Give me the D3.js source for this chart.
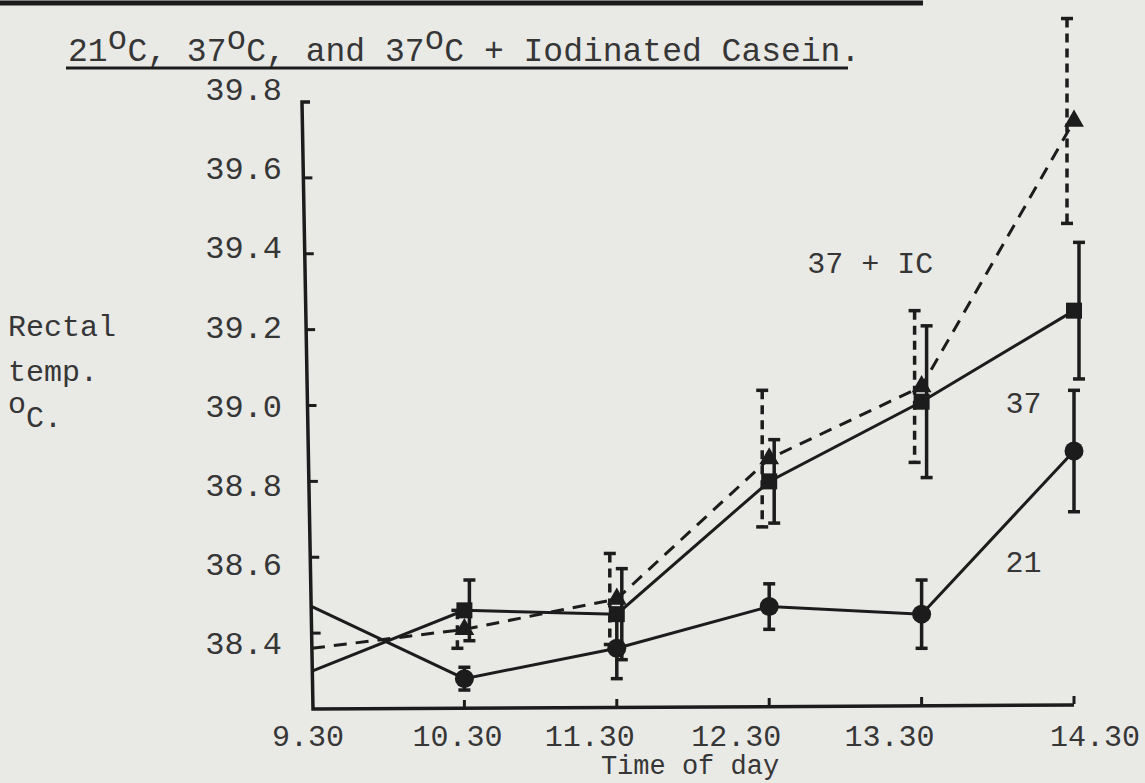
<!DOCTYPE html>
<html>
<head>
<meta charset="utf-8">
<script src="https://cdn.jsdelivr.net/npm/d3@7"></script>
<style>
  body { margin: 0; background: #e9e9e6; }
  svg { display: block; }
  text { font-family: "Liberation Mono", "DejaVu Sans Mono", monospace; fill: #363636; }
</style>
</head>
<body>
<svg id="chart" width="1145" height="783"></svg>
<script>
// time of day (x categories)
const times = ["9.30", "10.30", "11.30", "12.30", "13.30", "14.30"];
const yTicks = [39.8, 39.6, 39.4, 39.2, 39.0, 38.8, 38.6, 38.4];

// 21 C  (circles, solid)
const temp21 = [38.47, 38.28, 38.36, 38.47, 38.45, 38.88];
const err21  = [null, 0.03, 0.08, 0.06, 0.09, 0.16];
// 37 C  (squares, solid)
const temp37 = [38.30, 38.46, 38.45, 38.80, 39.01, 39.25];
const err37  = [null, 0.08, 0.12, 0.11, 0.20, 0.18];
// 37 C + iodinated casein  (triangles, dashed)
const tempIC = [38.36, 38.41, 38.49, 38.86, 39.05, 39.75];
const errIC  = [null, 0.05, 0.12, 0.18, 0.20, 0.27];

const svg = d3.select("#chart");
const ink = "#1c1c1c";

const x = d3.scalePoint().domain(times).range([312, 1074]);
const y = d3.scaleLinear().domain([38.2, 39.8]).range([709, 102]);
// typed labels sit a little off the drawn ticks
const yLab = d3.scaleLinear().domain([39.8, 38.4]).range([89, 643]);
const xLabShift = [-4, -7, -27, -33, -32, 21];

// remains of the underline from the line above
svg.append("line").attr("x1", 0).attr("x2", 923).attr("y1", 3).attr("y2", 3)
  .attr("stroke", ink).attr("stroke-width", 5);

// title
const title = svg.append("text").attr("x", 68).attr("y", 61).style("font-size", "33px");
function degC(sel, t) {
  sel.append("tspan").text(t);
  sel.append("tspan").attr("dy", -12).text("o");
  sel.append("tspan").attr("dy", 12).text("C");
}
degC(title, "21");
title.append("tspan").text(", ");
degC(title, "37");
title.append("tspan").text(", and ");
degC(title, "37");
title.append("tspan").text(" + Iodinated Casein.");
svg.append("line").attr("x1", 66).attr("x2", 848).attr("y1", 68).attr("y2", 68)
  .attr("stroke", ink).attr("stroke-width", 3);

// y axis, slightly leaning like the hand-drawn one
const x0 = x(times[0]);
svg.append("path")
  .attr("d", `M${x0 - 2},${y(39.8)} L${x0 - 10},${y(39.8)} L${x0 + 1},${y(38.2)} L${x(times[5])},${y(38.2) - 4}`)
  .attr("fill", "none").attr("stroke", ink).attr("stroke-width", 3.5);

const slant = v => x0 - 10 + 11 * (y(v) - y(39.8)) / (y(38.2) - y(39.8));
svg.selectAll(".ytick").data(yTicks.slice(1)).join("line")
  .attr("x1", d => slant(d)).attr("x2", d => slant(d) + 9)
  .attr("y1", d => y(d)).attr("y2", d => y(d))
  .attr("stroke", ink).attr("stroke-width", 3);

svg.selectAll(".ylab").data(yTicks).join("text")
  .attr("x", 282).attr("y", d => yLab(d)).attr("dy", "0.35em")
  .attr("text-anchor", "end").style("font-size", "32px")
  .text(d => d.toFixed(1));

// x ticks
svg.selectAll(".xtick").data(times.slice(1)).join("line")
  .attr("x1", d => x(d)).attr("x2", d => x(d))
  .attr("y1", (d, i) => y(38.2) - 1 - i).attr("y2", (d, i) => y(38.2) - 9 - i)
  .attr("stroke", ink).attr("stroke-width", 3);

svg.selectAll(".xlab").data(times).join("text")
  .attr("x", (d, i) => x(d) + xLabShift[i]).attr("y", 746)
  .attr("text-anchor", "middle").style("font-size", "30px")
  .text(d => d);

svg.append("text").attr("x", 690).attr("y", 774).attr("text-anchor", "middle")
  .style("font-size", "27px").text("Time of day");

// y title
const yt = svg.append("g").style("font-size", "30px");
yt.append("text").attr("x", 8).attr("y", 336).text("Rectal");
yt.append("text").attr("x", 8).attr("y", 381).text("temp.");
const oc = yt.append("text").attr("x", 8).attr("y", 427);
oc.append("tspan").attr("dy", -14).text("o");
oc.append("tspan").attr("dy", 14).text("C.");

// series
const series = [
  { vals: tempIC, err: errIC, dash: "13,9", bdash: "9,6", shift: -7, sym: d3.symbolTriangle, size: 170 },
  { vals: temp37, err: err37, dash: null, bdash: null, shift: 5, sym: d3.symbolSquare, size: 256 },
  { vals: temp21, err: err21, dash: null, bdash: null, shift: 0, sym: null, size: 0 }
];

const line = d3.line().x((d, i) => x(times[i])).y(d => y(d));

series.forEach(s => {
  const g = svg.append("g");
  g.append("path").datum(s.vals).attr("d", line)
    .attr("fill", "none").attr("stroke", ink).attr("stroke-width", 3)
    .attr("stroke-dasharray", s.dash);

  const pts = s.vals.map((v, i) => ({ t: times[i], v, e: s.err[i] })).filter(p => p.e != null);
  g.selectAll(".bar").data(pts).join("line")
    .attr("x1", p => x(p.t) + s.shift).attr("x2", p => x(p.t) + s.shift)
    .attr("y1", p => y(p.v + p.e)).attr("y2", p => y(p.v - p.e))
    .attr("stroke", ink).attr("stroke-width", 3.5).attr("stroke-dasharray", s.bdash);
  ["hi", "lo"].forEach(k => {
    g.selectAll(".cap" + k).data(pts).join("line")
      .attr("x1", p => x(p.t) + s.shift - 6).attr("x2", p => x(p.t) + s.shift + 6)
      .attr("y1", p => y(k === "hi" ? p.v + p.e : p.v - p.e))
      .attr("y2", p => y(k === "hi" ? p.v + p.e : p.v - p.e))
      .attr("stroke", ink).attr("stroke-width", 3.5);
  });

  const marks = s.vals.map((v, i) => ({ t: times[i], v })).slice(1);
  if (s.sym) {
    g.selectAll(".m").data(marks).join("path")
      .attr("d", d3.symbol(s.sym, s.size))
      .attr("transform", p => `translate(${x(p.t)},${y(p.v)})`)
      .attr("fill", ink);
  } else {
    g.selectAll(".m").data(marks).join("circle")
      .attr("cx", p => x(p.t)).attr("cy", p => y(p.v)).attr("r", 9.5)
      .attr("fill", ink);
  }
});

// series labels
svg.append("text").attr("x", x("12.30") + 38).attr("y", y(39.35)).style("font-size", "30px").text("37 + IC");
svg.append("text").attr("x", x("13.30") + 84).attr("y", y(38.98)).style("font-size", "30px").text("37");
svg.append("text").attr("x", x("13.30") + 84).attr("y", y(38.56)).style("font-size", "30px").text("21");
</script>
</body>
</html>
